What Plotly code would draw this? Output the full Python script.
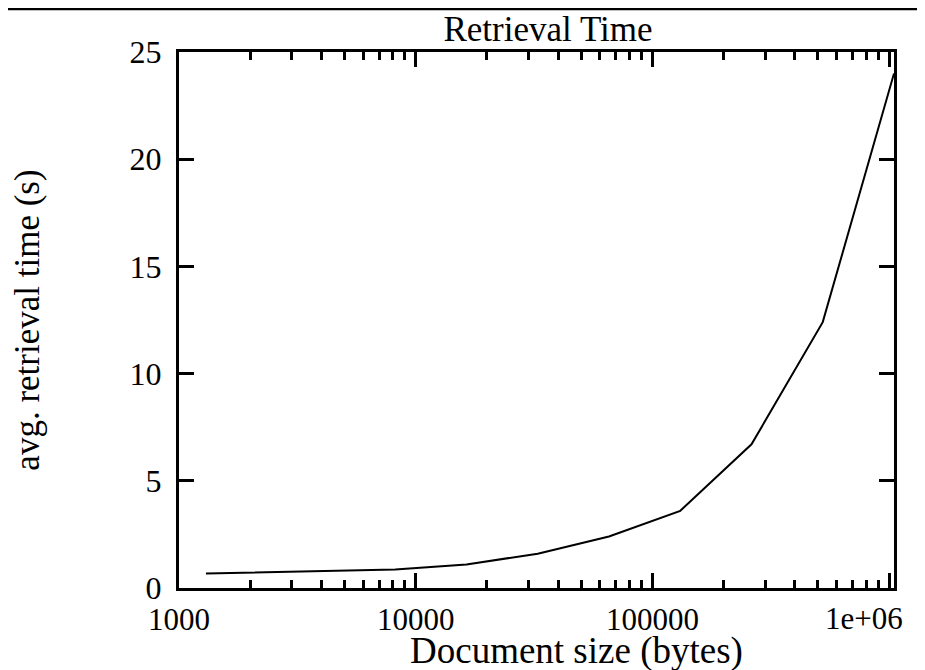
import plotly.graph_objects as go

# Data
doc_size = [1300, 2048, 4096, 8192, 16384, 32768, 65536, 131072, 262144, 524288, 1048576]
avg_time = [0.68, 0.72, 0.78, 0.86, 1.1, 1.6, 2.4, 3.6, 6.7, 12.4, 24.0]

x_major = [1000, 10000, 100000, 1000000]
x_major_text = ["1000", "10000", "100000", ""]
x_last_label = "1e+06"
x_minor = [m * 10 ** e for e in (3, 4, 5) for m in range(2, 10)]
y_ticks = [0, 5, 10, 15, 20, 25]
x_title = "Document size (bytes)"

FONT = "Liberation Serif"

# page body adds an 8px margin; figure is sized to fit the 925x670 window
W, H = 917, 662
L, R, T, B = 171, 31, 44, 82
PW, PH = W - L - R, H - T - B

fig = go.Figure()
fig.add_trace(go.Scatter(x=doc_size, y=avg_time, mode="lines",
                         line=dict(color="black", width=2), showlegend=False))

fig.update_layout(
    width=W, height=H,
    margin=dict(l=L, r=R, t=T, b=B, autoexpand=False),
    paper_bgcolor="white", plot_bgcolor="white",
    font=dict(family=FONT, size=31, color="black"),
    title=dict(text="Retrieval Time", x=540 / W, xanchor="center",
               y=1 - 21 / H, yanchor="middle", font=dict(size=35)),
    showlegend=False,
)
fig.update_xaxes(
    type="log", range=[3, 6.0206],
    tickmode="array", tickvals=x_major, ticktext=x_major_text,
    ticks="inside", ticklen=15, tickwidth=2.5, tickcolor="black",
    minor=dict(tickmode="array", tickvals=x_minor, ticks="inside",
               ticklen=8, tickwidth=2.5, tickcolor="black", showgrid=False),
    showline=True, linewidth=3, linecolor="black", mirror="ticks",
    showgrid=False, zeroline=False,
    ticklabelstandoff=2,
    tickfont=dict(size=31),
)
fig.update_yaxes(
    range=[0, 25], tickmode="array", tickvals=y_ticks,
    ticks="inside", ticklen=15, tickwidth=2.5, tickcolor="black",
    showline=True, linewidth=3, linecolor="black", mirror="ticks",
    showgrid=False, zeroline=False,
    ticklabelstandoff=8,
    title=dict(text="avg. retrieval time (s)", font=dict(size=35), standoff=88),
    tickfont=dict(size=32),
)
# last x tick label sits left of its tick in the reference
fig.add_annotation(text=x_last_label, x=6, xref="x", y=0, yref="paper",
                   xanchor="center", yanchor="top", xshift=-25, yshift=-11,
                   showarrow=False, font=dict(size=31, family=FONT, color="black"))
# x axis title, placed as in the reference
fig.add_annotation(text=x_title, x=(568 - L) / PW, xref="paper", y=0, yref="paper",
                   xanchor="center", yanchor="middle", yshift=-63,
                   showarrow=False, font=dict(size=37, family=FONT, color="black"))
# horizontal page rule at the very top of the image
fig.add_shape(type="line", xref="paper", yref="paper",
              x0=-L / PW, x1=(W - L) / PW, y0=(PH + T - 1) / PH, y1=(PH + T - 1) / PH,
              line=dict(color="black", width=2.5))

fig.write_html("out.html")
